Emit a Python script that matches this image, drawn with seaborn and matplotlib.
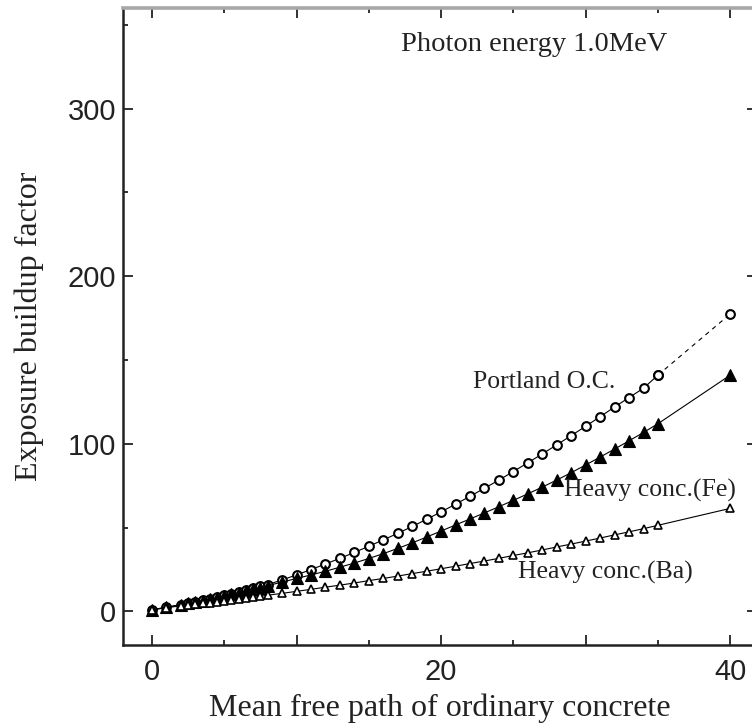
import matplotlib
matplotlib.use("Agg")
import matplotlib.pyplot as plt
from matplotlib.ticker import FixedLocator, FixedFormatter, MultipleLocator
import seaborn as sns

# Mean free path of ordinary concrete
mfp = [0, 1, 2, 2.5, 3, 3.5, 4, 4.5, 5, 5.5, 6, 6.5, 7, 7.5, 8,
       9, 10, 11, 12, 13, 14, 15, 16, 17, 18, 19, 20, 21, 22, 23, 24,
       25, 26, 27, 28, 29, 30, 31, 32, 33, 34, 35, 40]

# Exposure buildup factor, photon energy 1.0 MeV
portland = [1.0, 2.5, 4.1, 4.9, 5.8, 6.7, 7.6, 8.6, 9.6, 10.6, 11.6, 12.7, 13.8, 14.9, 16.0,
            18.8, 21.8, 25.0, 28.3, 31.7, 35.2, 38.9, 42.7, 46.6, 50.7, 55.0, 59.4, 64.0, 68.7,
            73.5, 78.4, 83.5, 88.7, 94.0, 99.4, 104.9, 110.5, 116.2, 122.0, 127.6, 133.2,
            141.0, 177.5]
heavy_fe = [1.0, 2.5, 4.0, 4.8, 5.7, 6.5, 7.4, 8.3, 9.3, 10.2, 11.2, 12.2, 13.3, 14.3, 15.4,
            17.5, 19.7, 21.8, 24.0, 26.4, 28.9, 31.6, 34.5, 37.6, 40.9, 44.4, 48.0, 51.6, 55.2,
            58.8, 62.5, 66.3, 70.2, 74.2, 78.4, 82.8, 87.4, 92.1, 96.9, 101.8, 106.8,
            112.0, 141.0]
heavy_ba = [1.0, 2.2, 3.4, 3.9, 4.3, 4.8, 5.3, 5.9, 6.4, 6.9, 7.4, 8.0, 8.5, 9.1, 9.7,
            10.8, 12.0, 13.2, 14.5, 15.7, 17.0, 18.4, 19.7, 21.1, 22.6, 24.0, 25.5, 27.0, 28.6,
            30.1, 31.7, 33.4, 35.0, 36.7, 38.5, 40.2, 42.0, 43.8, 45.7, 47.5, 49.4,
            51.4, 61.5]

x_ticks = [0, 10, 20, 30, 40]
x_tick_labels = ["0", "", "20", "", "40"]
y_ticks = [0, 100, 200, 300]
y_tick_labels = ["0", "100", "200", "300"]

sns.set_theme(style="ticks")
plt.rcParams["font.family"] = ["Liberation Sans", "DejaVu Sans"]

W, H = 752, 726
fig = plt.figure(figsize=(W / 100, H / 100), dpi=100)
fig.patch.set_facecolor("white")
ax = fig.add_axes([123 / W, 81 / H, (757 - 123) / W, (718 - 81) / H])
ax.set_facecolor("white")

line_kw = dict(color="black", linewidth=0.8, estimator=None, ax=ax, legend=False)

# Portland ordinary concrete: open circles, dashed toward the last point
sns.lineplot(x=mfp[:-1], y=portland[:-1], marker="o", markersize=6.3,
             markerfacecolor="white", markeredgecolor="black", markeredgewidth=1.5,
             **line_kw)
sns.lineplot(x=mfp[-2:], y=portland[-2:], marker="o", markersize=6.3,
             markerfacecolor="white", markeredgecolor="black", markeredgewidth=1.5,
             linestyle=(0, (4, 4)), **line_kw)

# Heavy concrete (Fe): filled triangles
sns.lineplot(x=mfp, y=heavy_fe, marker="^", markersize=8.5,
             markerfacecolor="black", markeredgecolor="black", markeredgewidth=0.8,
             **line_kw)

# Heavy concrete (Ba): open triangles
sns.lineplot(x=mfp, y=heavy_ba, marker="^", markersize=6.0,
             markerfacecolor="white", markeredgecolor="black", markeredgewidth=1.2,
             **line_kw)

ax.set_xlim(-2, 41.85)
ax.set_ylim(-20, 360)

ax.xaxis.set_major_locator(FixedLocator(x_ticks))
ax.xaxis.set_major_formatter(FixedFormatter(x_tick_labels))
ax.xaxis.set_minor_locator(MultipleLocator(5))
ax.yaxis.set_major_locator(FixedLocator(y_ticks))
ax.yaxis.set_major_formatter(FixedFormatter(y_tick_labels))
ax.yaxis.set_minor_locator(MultipleLocator(50))

ax.tick_params(which="both", direction="in", top=True, right=True,
               color="#222222", width=1.3)
ax.tick_params(which="major", length=7.5, labelsize=21, pad=5,
               labelcolor="#222222")
ax.tick_params(which="minor", length=3.8)
ax.tick_params(axis="x", which="major", pad=9)

for side in ("left", "bottom", "right"):
    ax.spines[side].set_color("#222222")
    ax.spines[side].set_linewidth(1.8)
ax.spines["top"].set_color("#a8a8a8")
ax.spines["top"].set_linewidth(2.6)

serif = ["Liberation Serif", "DejaVu Serif"]
ax.set_xlabel("Mean free path of ordinary concrete", family=serif,
              fontsize=23, color="#222222", labelpad=6)
ax.set_ylabel("Exposure buildup factor", family=serif,
              fontsize=23, color="#222222", labelpad=17)

note_kw = dict(family=serif, color="#222222", ha="left", va="center")
ax.text(17.2, 338, "Photon energy 1.0MeV", fontsize=20.5, **note_kw)
ax.text(22.2, 137, "Portland O.C.", fontsize=18.5, **note_kw)
ax.text(28.5, 72, "Heavy conc.(Fe)", fontsize=18.5, **note_kw)
ax.text(25.3, 23, "Heavy conc.(Ba)", fontsize=18.5, **note_kw)

fig.savefig("out.png", dpi=100, facecolor="white")
